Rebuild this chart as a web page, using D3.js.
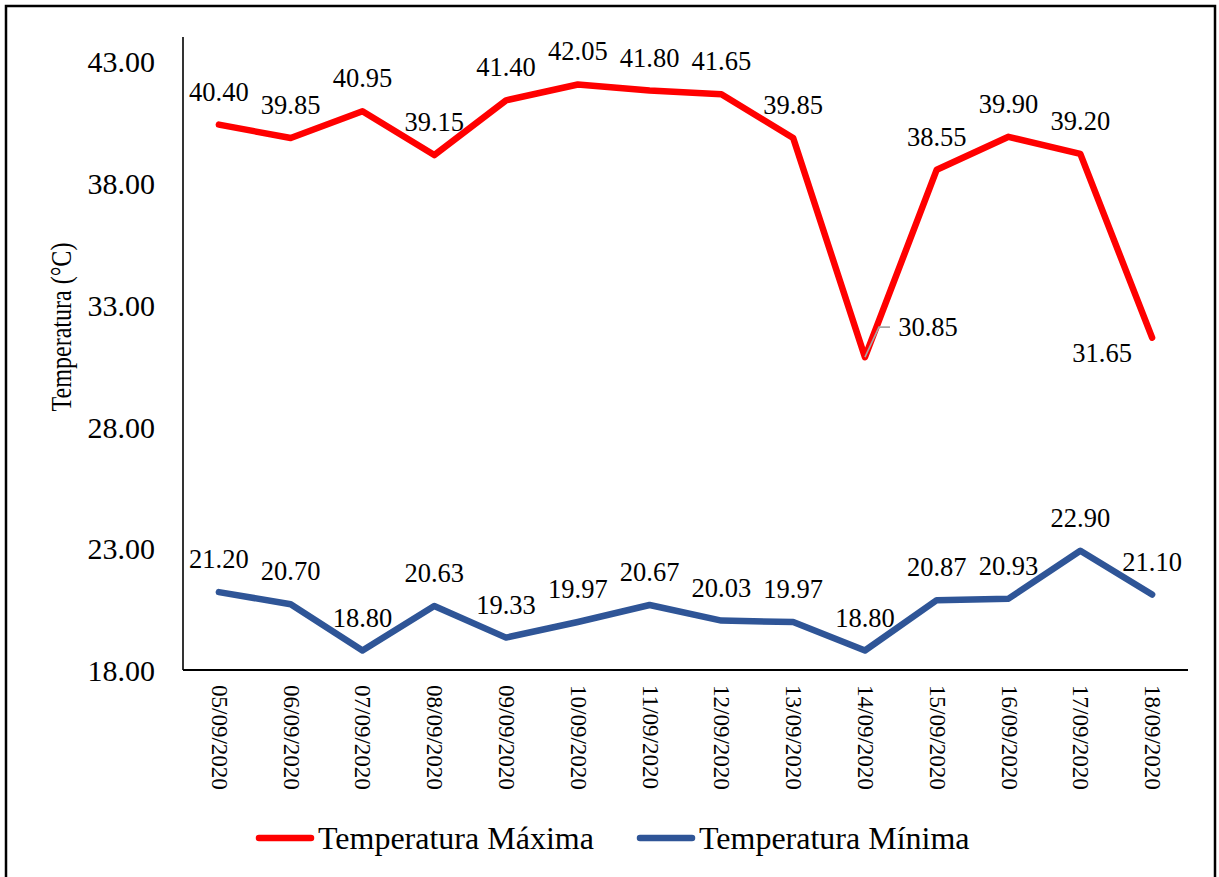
<!DOCTYPE html>
<html>
<head>
<meta charset="utf-8">
<script src="https://cdn.jsdelivr.net/npm/d3@7"></script>
<style>
  html, body { margin: 0; padding: 0; background: #fff; }
  svg { display: block; }
  text { font-family: "Liberation Serif", "Times New Roman", serif; fill: #000; }
</style>
</head>
<body>
<svg id="chart" width="1219" height="877"></svg>
<script>
// Daily temperature readings, 05/09/2020 – 18/09/2020
const dates = ["05/09/2020", "06/09/2020", "07/09/2020", "08/09/2020", "09/09/2020",
  "10/09/2020", "11/09/2020", "12/09/2020", "13/09/2020", "14/09/2020",
  "15/09/2020", "16/09/2020", "17/09/2020", "18/09/2020"];
const tempMax = [40.40, 39.85, 40.95, 39.15, 41.40, 42.05, 41.80, 41.65, 39.85, 30.85, 38.55, 39.90, 39.20, 31.65];
const tempMin = [21.20, 20.70, 18.80, 20.63, 19.33, 19.97, 20.67, 20.03, 19.97, 18.80, 20.87, 20.93, 22.90, 21.10];
const yTicks = [18, 23, 28, 33, 38, 43];
const seriesNames = ["Temperatura Máxima", "Temperatura Mínima"];

const colors = ["#ff0000", "#2f5597"];
const series = [
  { name: seriesNames[0], values: tempMax, color: colors[0] },
  { name: seriesNames[1], values: tempMin, color: colors[1] }
];

const svg = d3.select("#chart");
const W = 1219, H = 877;
const plot = { left: 183, right: 1188, top: 37, bottom: 670 };
const serif = "'Liberation Serif', 'Times New Roman', serif";

// outer frame (open at the bottom edge of the page)
svg.append("rect")
  .attr("x", 6).attr("y", 6)
  .attr("width", 1209).attr("height", H + 10)
  .attr("fill", "none").attr("stroke", "#000").attr("stroke-width", 2.5);

const x = d3.scalePoint().domain(dates).range([plot.left, plot.right]).padding(0.5);
const y = d3.scaleLinear().domain([18, 44]).range([plot.bottom, plot.top]);

// y axis
const yAxis = svg.append("g")
  .attr("transform", `translate(${plot.left},0)`)
  .call(d3.axisLeft(y).tickValues(yTicks).tickFormat(d3.format(".2f")).tickSize(0).tickPadding(28))
  .attr("font-family", serif);
yAxis.select(".domain").attr("stroke", "#000").attr("stroke-width", 1.6)
  .attr("d", `M0,${plot.top}V${plot.bottom}`);
yAxis.selectAll(".tick text").attr("font-size", 30).attr("dy", "0.35em");

// x axis
const xAxis = svg.append("g")
  .attr("transform", `translate(0,${plot.bottom})`)
  .call(d3.axisBottom(x).tickSize(0).tickPadding(0))
  .attr("font-family", serif);
xAxis.select(".domain").attr("stroke", "#000").attr("stroke-width", 2)
  .attr("d", `M${plot.left},0H${plot.right}`);
xAxis.selectAll(".tick text")
  .attr("font-size", 23)
  .attr("text-anchor", "start")
  .attr("dominant-baseline", "central")
  .attr("x", 0).attr("y", 0).attr("dy", null)
  .attr("transform", "translate(0,15) rotate(90)");

// y axis title
svg.append("text")
  .attr("transform", `translate(61,327) rotate(-90) scale(0.83,1)`)
  .attr("text-anchor", "middle")
  .attr("dominant-baseline", "central")
  .attr("font-size", 29)
  .text("Temperatura (°C)");

// lines
const line = d3.line()
  .x((d, i) => x(dates[i]))
  .y(d => y(d));

series.forEach(s => {
  svg.append("path")
    .datum(s.values)
    .attr("fill", "none")
    .attr("stroke", s.color)
    .attr("stroke-width", 6.5)
    .attr("stroke-linejoin", "round")
    .attr("stroke-linecap", "round")
    .attr("d", line);
});

// data labels: centred above each point, with two moved clear of the line
const labelShift = {
  "0-9": { dx: 63, dy: -30, leader: true },
  "0-13": { dx: -50, dy: 15 }
};
series.forEach((s, si) => {
  const g = svg.append("g");
  s.values.forEach((v, i) => {
    const px = x(dates[i]), py = y(v);
    const shift = labelShift[`${si}-${i}`];
    let lx = px, ly = py - 33;
    if (shift) {
      lx = px + shift.dx; ly = py + shift.dy;
      if (shift.leader) {
        g.append("path")
          .attr("d", `M${px},${py}L${px + 14},${ly}H${px + 25}`)
          .attr("fill", "none").attr("stroke", "#a6a6a6").attr("stroke-width", 1.6);
      }
    }
    g.append("text")
      .attr("x", lx).attr("y", ly)
      .attr("text-anchor", "middle")
      .attr("dominant-baseline", "central")
      .attr("font-size", 26.5)
      .text(d3.format(".2f")(v));
  });
});

// legend
const legendItems = [
  { name: seriesNames[0], color: colors[0], x: 256 },
  { name: seriesNames[1], color: colors[1], x: 637 }
];
const legend = svg.append("g");
legendItems.forEach(it => {
  legend.append("line")
    .attr("x1", it.x + 3).attr("x2", it.x + 55)
    .attr("y1", 838).attr("y2", 838)
    .attr("stroke", it.color).attr("stroke-width", 6.5).attr("stroke-linecap", "round");
  legend.append("text")
    .attr("x", it.x + 62).attr("y", 838)
    .attr("dominant-baseline", "central")
    .attr("font-size", 32)
    .text(it.name);
});
</script>
</body>
</html>
